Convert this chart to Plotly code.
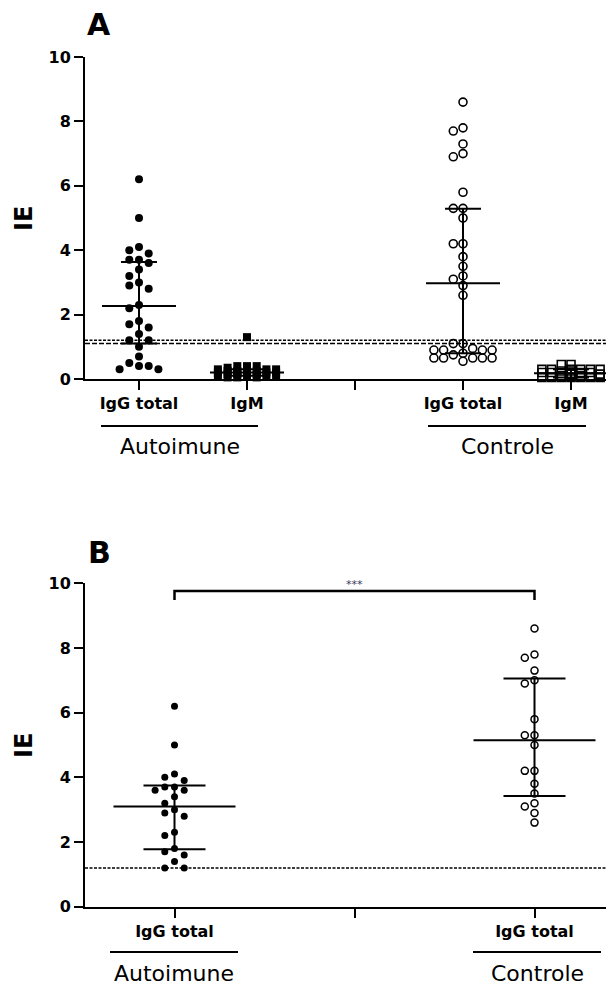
import plotly.graph_objects as go

W, H = 614, 985
OFF = 8  # page body margin: figure origin sits at (8, 8) in the page

# ---------------- data ----------------
ticks_A = [1, 2, 3, 4, 5]
ticklabels_A = ["IgG total", "IgM", "", "IgG total", "IgM"]
ticks_B = [1, 1.5, 2]
ticklabels_B = ["IgG total", "", "IgG total"]
groups = ["Autoimune", "Controle"]

aut_igg_A = [6.2, 5.0, 4.1, 4.0, 3.9, 3.7, 3.6, 3.7, 3.4, 3.2, 3.0, 2.9, 2.8, 2.3,
             2.2, 1.8, 1.7, 1.6, 1.4, 1.2, 1.2, 1.0, 0.7, 0.5, 0.4, 0.4, 0.3, 0.3]
aut_igm_A = [1.3, 0.4, 0.4, 0.4, 0.35, 0.3, 0.3, 0.3, 0.3, 0.25, 0.25, 0.25, 0.2, 0.2,
             0.2, 0.2, 0.2, 0.15, 0.15, 0.15, 0.15, 0.1, 0.1, 0.1, 0.1, 0.05, 0.05, 0.05]
ctl_igg_A = [8.6, 7.8, 7.7, 7.3, 7.0, 6.9, 5.8, 5.3, 5.3, 5.0, 4.2, 4.2, 3.8, 3.5,
             3.2, 3.1, 2.9, 2.6, 1.1, 1.1, 0.95, 0.9, 0.9, 0.9, 0.9, 0.8, 0.75,
             0.65, 0.65, 0.65, 0.65, 0.65, 0.55]
ctl_igm_A = [0.45, 0.45, 0.3, 0.3, 0.3, 0.3, 0.3, 0.3, 0.25, 0.25, 0.2, 0.2, 0.2,
             0.2, 0.15, 0.15, 0.1, 0.1, 0.05, 0.05, 0.05, 0.05, 0.05, 0.05, 0.05]
med_A = [2.27, 0.20, 2.97, 0.18]
q1_A = [1.10, 0.10, 0.80, 0.05]
q3_A = [3.63, 0.30, 5.29, 0.30]
cut_dotted_A = 1.2
cut_dashed_A = 1.1

aut_igg_B = [6.2, 5.0, 4.1, 4.0, 3.9, 3.7, 3.7, 3.6, 3.6, 3.4, 3.2, 3.0, 2.9, 2.8,
             2.3, 2.2, 1.8, 1.7, 1.6, 1.4, 1.2, 1.2]
ctl_igg_B = [8.6, 7.8, 7.7, 7.3, 7.0, 6.9, 5.8, 5.3, 5.3, 5.0, 4.2, 4.2, 3.8, 3.5,
             3.2, 3.1, 2.9, 2.6]
med_B = [3.10, 5.15]
q1_B = [1.78, 3.42]
q3_B = [3.75, 7.06]
cut_B = 1.2
signif_B = "***"

# ---------------- layout constants (page pixels) ----------------
XL = 85
A_top, A_bot = 57, 379
B_top, B_bot = 583.3, 906.7
RIGHT = W + OFF
A_xppu = 108.0
B_xppu = 360.0
A_xrange = [1 - (139 - XL) / A_xppu, 5 + (RIGHT - 571) / A_xppu]
B_xrange = [1 - (174.5 - XL) / B_xppu, 2 + (RIGHT - 534.5) / B_xppu]
yrange = [0, 10]


def pxx(x):
    return (x - OFF) / W


def pxy(y):
    return 1 - (y - OFF) / H


A_yppu = (A_bot - A_top) / 10
B_yppu = (B_bot - B_top) / 10


def swarm(vals, xc, xppu, yppu, diam, spacing, maxc):
    order = sorted(range(len(vals)), key=lambda i: -vals[i])
    cands = [0]
    for k in range(1, maxc + 1):
        cands += [-k, k]
    cols = {c: [] for c in cands}
    xs = [0.0] * len(vals)
    for i in order:
        y = vals[i] * yppu
        best, bestd = None, -1
        for c in cands:
            d = min([abs(y - yy) for yy in cols[c]], default=1e9)
            if d >= diam:
                best = c
                break
            if d > bestd + 0.01:
                bestd, best = d, c
        cols[best].append(y)
        xs[i] = xc + best * spacing / xppu
    return xs


def bars(centers, med, q1, q3, mhw, chw):
    xs, ys = [], []
    for c, m, a, b in zip(centers, med, q1, q3):
        xs += [c, c, None, c - chw, c + chw, None, c - chw, c + chw, None,
               c - mhw, c + mhw, None]
        ys += [a, b, None, b, b, None, a, a, None, m, m, None]
    return xs, ys


fig = go.Figure()

# ----- panel A -----
mk_f = dict(color="black", size=8)
fig.add_trace(go.Scatter(x=swarm(aut_igg_A, ticks_A[0], A_xppu, A_yppu, 8, 9.7, 2), y=aut_igg_A,
                         mode="markers", marker=dict(symbol="circle", **mk_f),
                         xaxis="x", yaxis="y", cliponaxis=False))
fig.add_trace(go.Scatter(x=swarm(aut_igm_A, ticks_A[1], A_xppu, A_yppu, 8, 9.7, 3), y=aut_igm_A,
                         mode="markers", marker=dict(symbol="square", **mk_f),
                         xaxis="x", yaxis="y", cliponaxis=False))
fig.add_trace(go.Scatter(x=swarm(ctl_igg_A, ticks_A[3], A_xppu, A_yppu, 8, 9.7, 3), y=ctl_igg_A,
                         mode="markers",
                         marker=dict(symbol="circle-open", color="black", size=8, line=dict(width=1.6)),
                         xaxis="x", yaxis="y", cliponaxis=False))
fig.add_trace(go.Scatter(x=swarm(ctl_igm_A, ticks_A[4], A_xppu, A_yppu, 8, 9.7, 3), y=ctl_igm_A,
                         mode="markers",
                         marker=dict(symbol="square-open", color="black", size=8, line=dict(width=1.6)),
                         xaxis="x", yaxis="y", cliponaxis=False))
bx, by = bars([ticks_A[0], ticks_A[1], ticks_A[3], ticks_A[4]], med_A, q1_A, q3_A,
              37 / A_xppu, 18 / A_xppu)
fig.add_trace(go.Scatter(x=bx, y=by, mode="lines", line=dict(color="black", width=2),
                         xaxis="x", yaxis="y", cliponaxis=False))

# ----- panel B -----
fig.add_trace(go.Scatter(x=swarm(aut_igg_B, ticks_B[0], B_xppu, B_yppu, 7, 9.7, 2), y=aut_igg_B,
                         mode="markers", marker=dict(symbol="circle", color="black", size=7),
                         xaxis="x2", yaxis="y2", cliponaxis=False))
fig.add_trace(go.Scatter(x=swarm(ctl_igg_B, ticks_B[2], B_xppu, B_yppu, 7, 9.7, 2), y=ctl_igg_B,
                         mode="markers",
                         marker=dict(symbol="circle-open", color="black", size=7, line=dict(width=1.5)),
                         xaxis="x2", yaxis="y2", cliponaxis=False))
bx, by = bars([ticks_B[0], ticks_B[2]], med_B, q1_B, q3_B, 61 / B_xppu, 31 / B_xppu)
fig.add_trace(go.Scatter(x=bx, y=by, mode="lines", line=dict(color="black", width=2),
                         xaxis="x2", yaxis="y2", cliponaxis=False))

tickfont = dict(family="DejaVu Sans", size=16, color="black", weight="bold")
axis_common = dict(showgrid=False, zeroline=False, showline=True, linecolor="black",
                   linewidth=2, ticks="outside", ticklen=9, tickwidth=2, tickcolor="black",
                   tickfont=tickfont, automargin=False)

shapes = [
    dict(type="line", xref="x domain", yref="y", x0=0, x1=1, y0=cut_dotted_A, y1=cut_dotted_A,
         line=dict(color="black", width=1.5, dash="3px,1.5px"), layer="below"),
    dict(type="line", xref="x domain", yref="y", x0=0, x1=1, y0=cut_dashed_A, y1=cut_dashed_A,
         line=dict(color="black", width=1.5, dash="5px,2px"), layer="below"),
    dict(type="line", xref="x2 domain", yref="y2", x0=0, x1=1, y0=cut_B, y1=cut_B,
         line=dict(color="black", width=1.5, dash="3px,1.5px"), layer="below"),
    # significance bracket
    dict(type="path", xref="x2", yref="y2",
         path=f"M {ticks_B[0]},9.48 L {ticks_B[0]},9.76 L {ticks_B[2]},9.76 L {ticks_B[2]},9.48",
         line=dict(color="black", width=2.5)),
]
# group underlines
for (x0, x1, y) in [(101, 258, 426), (428, 586, 426), (110, 238, 952), (473, 601, 952)]:
    shapes.append(dict(type="line", xref="paper", yref="paper", x0=pxx(x0), x1=pxx(x1),
                       y0=pxy(y), y1=pxy(y), line=dict(color="black", width=2)))

annotations = []
grp_font = dict(family="DejaVu Sans", size=22, color="black")
for name, (x0, x1, y) in zip(groups * 2, [(101, 258, 447), (428, 586, 447),
                                          (110, 238, 973), (473, 601, 973)]):
    annotations.append(dict(text=name, x=pxx((x0 + x1) / 2), y=pxy(y), xref="paper",
                            yref="paper", showarrow=False, font=grp_font,
                            xanchor="center", yanchor="middle"))
for lab, y in [("A", 24), ("B", 552)]:
    annotations.append(dict(text=lab, x=pxx(99), y=pxy(y), xref="paper", yref="paper",
                            showarrow=False, xanchor="center", yanchor="middle",
                            font=dict(family="DejaVu Sans", size=30, color="black", weight="bold")))
for y in [219, 746]:
    annotations.append(dict(text="IE", x=pxx(24), y=pxy(y), xref="paper", yref="paper",
                            showarrow=False, textangle=-90, xanchor="center", yanchor="middle",
                            font=dict(family="DejaVu Sans", size=24, color="black", weight="bold")))
annotations.append(dict(text=signif_B, x=1.5, y=pxy(584), xref="x2", yref="paper",
                        showarrow=False, xanchor="center", yanchor="middle",
                        font=dict(family="DejaVu Sans", size=11, color="#3a3a5a")))

fig.update_layout(
    width=W, height=H, margin=dict(l=0, r=0, t=0, b=0),
    paper_bgcolor="white", plot_bgcolor="white", showlegend=False,
    xaxis=dict(domain=[pxx(XL), 1], range=A_xrange, anchor="y",
               tickvals=ticks_A, ticktext=ticklabels_A, **axis_common),
    yaxis=dict(domain=[pxy(A_bot), pxy(A_top)], range=yrange, anchor="x",
               tickvals=[0, 2, 4, 6, 8, 10], **axis_common),
    xaxis2=dict(domain=[pxx(XL), 1], range=B_xrange, anchor="y2",
                tickvals=ticks_B, ticktext=ticklabels_B, **axis_common),
    yaxis2=dict(domain=[pxy(B_bot), pxy(B_top)], range=yrange, anchor="x2",
                tickvals=[0, 2, 4, 6, 8, 10], **axis_common),
    shapes=shapes, annotations=annotations,
)

fig.write_html("out.html")
